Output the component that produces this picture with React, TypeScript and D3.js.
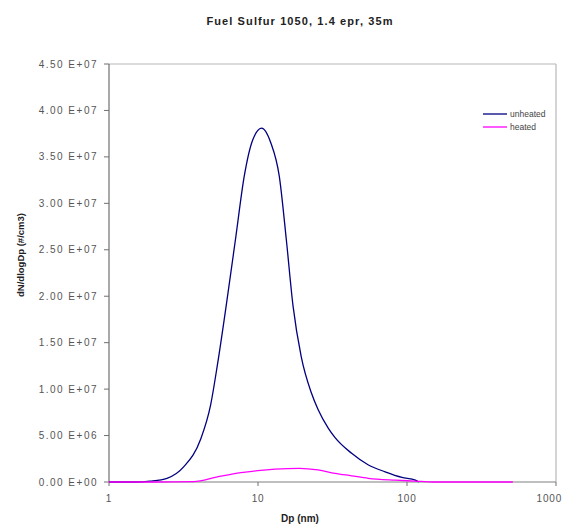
import React from "react";
import * as d3 from "d3";

const unheatedDp = [1, 1.5, 1.89, 2.45, 3.18, 4.12, 4.81, 5.34, 6.24, 7.1, 8.08, 9.2, 10.6, 12.2, 13.9, 15.5, 17.2, 19.5, 22.8, 25.3, 29.6, 32.8, 42.5, 55.1, 71.3, 92.5, 113.8, 120];
const unheatedN = [0, 0, 0.1e6, 0.4e6, 1.65e6, 4.6e6, 8.3e6, 12.6e6, 19.95e6, 26.4e6, 32.9e6, 36.8e6, 38.1e6, 36.5e6, 32.9e6, 26.05e6, 18.9e6, 13.5e6, 9.6e6, 7.8e6, 5.8e6, 4.8e6, 3.09e6, 1.83e6, 1.1e6, 0.5e6, 0.2e6, 0];

const heatedDp = [1, 2, 3.7, 5.34, 7.67, 9.95, 13, 19, 25.3, 32.8, 42.5, 55, 83.5, 113, 150, 513];
const heatedN = [0, 0, 0.05e6, 0.55e6, 1.0e6, 1.22e6, 1.38e6, 1.47e6, 1.3e6, 0.94e6, 0.67e6, 0.4e6, 0.2e6, 0.1e6, 0, 0];

const yTicks = [0, 5e6, 1e7, 1.5e7, 2e7, 2.5e7, 3e7, 3.5e7, 4e7, 4.5e7];
const yTickLabels = ["0.00 E+00", "5.00 E+06", "1.00 E+07", "1.50 E+07", "2.00 E+07", "2.50 E+07", "3.00 E+07", "3.50 E+07", "4.00 E+07", "4.50 E+07"];
const xTicks = [1, 10, 100, 1000];
const xTickLabels = ["1", "10", "100", "1000"];
const seriesNames = ["unheated", "heated"];

const W = 563, H = 528;
const L = 109, R = 556, T = 64, B = 482;

export default function App() {
  const x = d3.scaleLog().domain([1, 1000]).range([L, R]);
  const y = d3.scaleLinear().domain([0, 4.5e7]).range([B, T]);
  const line = d3
    .line<[number, number]>()
    .x((d) => x(d[0]))
    .y((d) => y(d[1]))
    .curve(d3.curveMonotoneX);
  const uData = unheatedDp.map((v, i) => [v, unheatedN[i]] as [number, number]);
  const hData = heatedDp.map((v, i) => [v, heatedN[i]] as [number, number]);
  const font = "Arial, 'Liberation Sans', sans-serif";
  const colors = ["#000080", "#FF00FF"];

  return (
    <svg width={W} height={H} style={{ position: "absolute", left: 0, top: 0, background: "#fff" }} fontFamily={font}>
      <rect x={0} y={0} width={W} height={H} fill="#fff" />
      <text x={300} y={25} textAnchor="middle" fontSize={11} fontWeight="bold" fill="#222" letterSpacing={1.1}>
        Fuel Sulfur 1050, 1.4 epr, 35m
      </text>
      {/* plot border */}
      <line x1={L} x2={R} y1={T} y2={T} stroke="#b8b8b8" strokeWidth={1.2} />
      <line x1={R} x2={R} y1={T} y2={B} stroke="#b8b8b8" strokeWidth={1.2} />
      {/* axes */}
      <line x1={L} x2={L} y1={T} y2={B} stroke="#707070" strokeWidth={1.2} />
      <line x1={L} x2={R} y1={B} y2={B} stroke="#808080" strokeWidth={1.2} />
      {yTicks.map((t, i) => (
        <g key={"y" + i}>
          <line x1={L - 5} x2={L} y1={y(t)} y2={y(t)} stroke="#707070" />
          <text x={L - 11} y={y(t) + 3.5} textAnchor="end" fontSize={10} fill="#555" letterSpacing={1.5}>
            {yTickLabels[i]}
          </text>
        </g>
      ))}
      {xTicks.map((t, i) => (
        <g key={"x" + i}>
          <line x1={x(t)} x2={x(t)} y1={B} y2={B + 4} stroke="#707070" />
          <text
            x={i === xTicks.length - 1 ? W - 1 : x(t)}
            y={B + 20}
            textAnchor={i === xTicks.length - 1 ? "end" : "middle"}
            fontSize={10}
            fill="#555"
            letterSpacing={0.8}
          >
            {xTickLabels[i]}
          </text>
        </g>
      ))}
      <text x={300} y={522} textAnchor="middle" fontSize={10} fontWeight="bold" fill="#222">
        Dp (nm)
      </text>
      <text
        transform={`translate(24,${255}) rotate(-90)`}
        textAnchor="middle"
        fontSize={9.5}
        fontWeight="bold"
        fill="#222"
      >
        dN/dlogDp (#/cm3)
      </text>
      <path d={line(uData) || ""} fill="none" stroke={colors[0]} strokeWidth={1.3} />
      <path d={line(hData) || ""} fill="none" stroke={colors[1]} strokeWidth={1.3} />
      {seriesNames.map((n, i) => (
        <g key={n}>
          <line x1={483} x2={507} y1={114 + i * 13} y2={114 + i * 13} stroke={colors[i]} strokeWidth={1.3} />
          <text x={510} y={117 + i * 13} fontSize={8.5} fill="#444">
            {n}
          </text>
        </g>
      ))}
    </svg>
  );
}
